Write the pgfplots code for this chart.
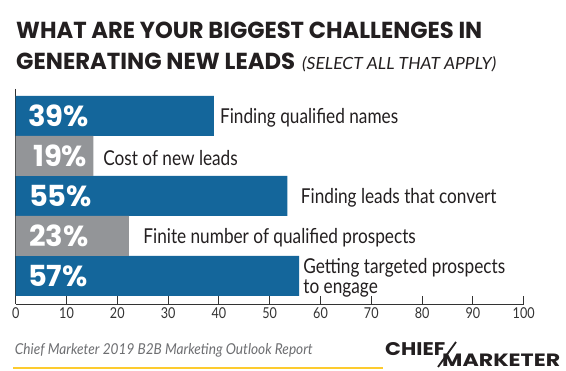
\documentclass[border=0pt]{standalone}
\usepackage{pgfplots}
\pgfplotsset{compat=1.18}
\usepackage{fontspec}
\setmainfont{Lato}
\newfontfamily\titlefont{Poppins}
\newfontfamily\labelfont[FakeStretch=0.84]{Lato}
\newfontfamily\footfont[FakeStretch=0.91]{Lato}
\definecolor{barblue}{HTML}{14669B}
\definecolor{bargray}{HTML}{939598}
\definecolor{titleblack}{HTML}{231F20}
\definecolor{txtgray}{HTML}{333333}
\definecolor{footgray}{HTML}{6D6E71}
\definecolor{goldline}{HTML}{FDCB2E}
\pgfplotstableread{
y x
0 39.0
2 53.5
4 55.8
}\bluedata
\pgfplotstableread{
y x
1 15.3
3 22.3
}\graydata
\begin{document}
\begin{tikzpicture}[x=1pt,y=1pt]
\useasboundingbox (0,0) rectangle (566,371);
\fill[white] (0,0) rectangle (566,371);
% Title
\node[anchor=base west,inner sep=0,text=titleblack] at (16,332) {\resizebox{466pt}{16.5pt}{\titlefont\bfseries WHAT ARE YOUR BIGGEST CHALLENGES IN}};
\node[anchor=base west,inner sep=0,text=titleblack] at (16,301) {\resizebox{279pt}{16.5pt}{\titlefont\bfseries GENERATING NEW LEADS}};
\node[anchor=base west,inner sep=0,text=titleblack] at (302,301) {\resizebox{194pt}{13pt}{\footfont\itshape (SELECT ALL THAT APPLY)}};
\begin{axis}[
  at={(15.7pt,67pt)}, anchor=south west,
  scale only axis, width=508pt, height=215pt,
  xmin=0, xmax=100, ymin=-0.675, ymax=4.7, y dir=reverse,
  axis x line*=bottom, axis y line*=left,
  axis line style={txtgray, line width=0.9pt, -},
  xtick={0,10,...,100}, ytick=\empty,
  tick align=inside, major tick length=8pt,
  tick style={txtgray, line width=0.9pt},
  /pgf/number format/assume math mode=true,
  tick label style={font=\labelfont\fontsize{15}{15}\selectfont, text=txtgray},
  xbar, bar width=40pt, bar shift=0pt,
  clip=false,
]
\addplot[fill=barblue, draw=none] table[x=x,y=y] {\bluedata};
\addplot[fill=bargray, draw=none] table[x=x,y=y] {\graydata};
% percent labels
\begin{scope}[every node/.style={anchor=west, inner sep=0, text=white, font=\titlefont\bfseries\fontsize{29}{29}\selectfont}]
\node at (axis cs:2.4,0) {39\%};
\node at (axis cs:3.4,1) {19\%};
\node at (axis cs:2.6,2) {55\%};
\node at (axis cs:2.6,3) {23\%};
\node at (axis cs:2.4,4) {57\%};
\end{scope}
\begin{scope}[every node/.style={anchor=west, inner sep=0, text=titleblack, font=\labelfont\fontsize{20.5}{20.5}\selectfont}]
\node at (axis cs:40.2,0.05) {Finding qualified names};
\node at (axis cs:17.2,1.05) {Cost of new leads};
\node at (axis cs:56.1,2.05) {Finding leads that convert};
\node at (axis cs:25.1,3.05) {Finite number of qualified prospects};
\node[align=left, font=\labelfont\fontsize{20.5}{20}\selectfont] at (axis cs:56.6,4.05) {Getting targeted prospects\\to engage};
\end{scope}
\end{axis}
% footer
\node[anchor=base west,inner sep=0,text=footgray] at (14.7,16) {\footfont\itshape\fontsize{15}{15}\selectfont Chief Marketer 2019 B2B Marketing Outlook Report};
\draw[goldline, line width=2.2pt] (13,3) -- (383,3);
% logo
\node[anchor=base west,inner sep=0,text=titleblack] at (385,15) {\resizebox{60pt}{13pt}{\titlefont\bfseries CHIEF}};
\node[anchor=base west,inner sep=0,text=titleblack] at (442,4.5) {\resizebox{118pt}{12.5pt}{\titlefont\bfseries MARKETER}};
\draw[titleblack, line width=1.8pt] (438,4) -- (456,29);
\end{tikzpicture}
\end{document}
